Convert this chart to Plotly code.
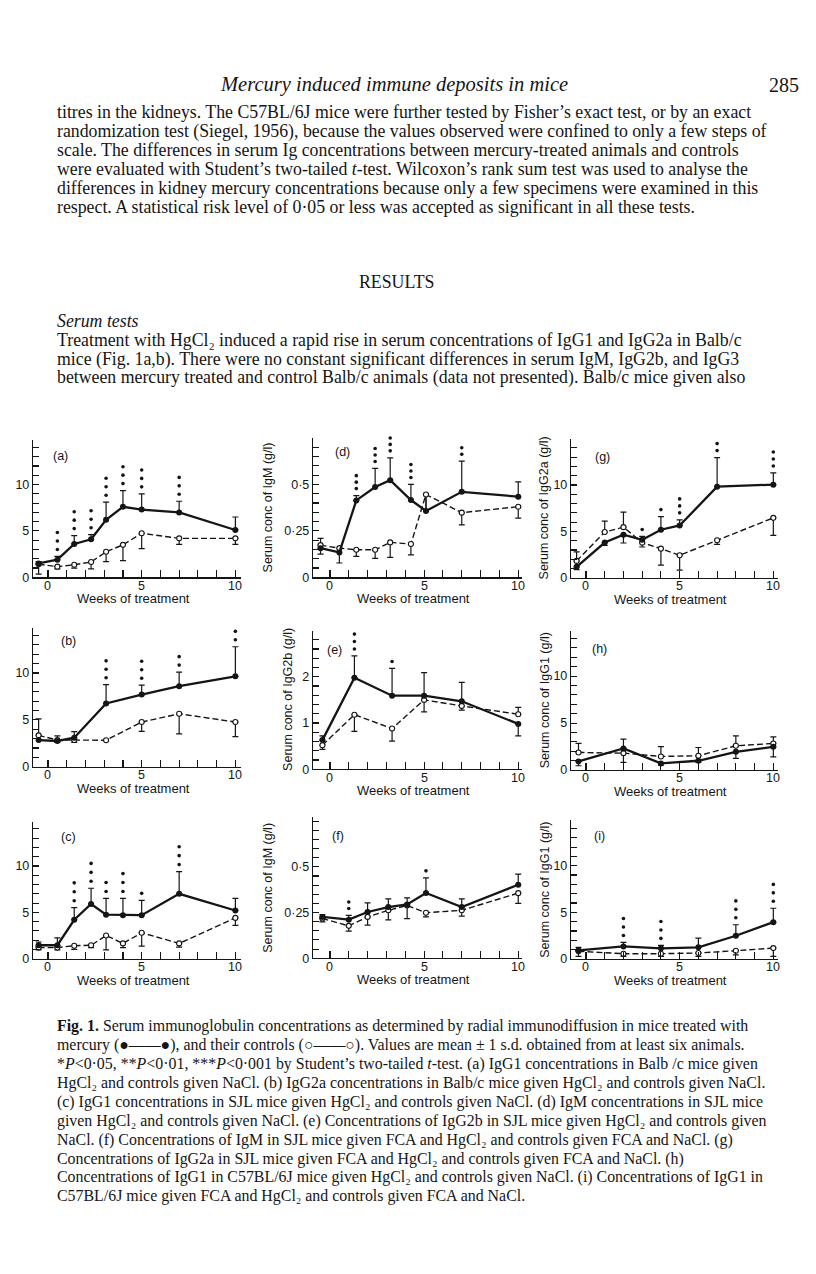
import plotly.graph_objects as go

W, H = 816, 1274


def px(x):
    return x / W


def py(y):
    return 1 - y / H


# ---------------- data ----------------
# (a) IgG1, Balb/c, HgCl2 vs NaCl
weeks_a = [-0.5, 0.5, 1.4, 2.3, 3.1, 4, 5, 7, 10]
hg_a = [1.5, 1.9, 3.6, 4.1, 6.2, 7.6, 7.3, 7.0, 5.1]
hg_a_up = [0.2, 0.35, 0.9, 0.5, 1.9, 1.75, 1.7, 1.2, 1.4]
hg_a_dn = [0, 0, 0, 0, 0, 0, 0, 0, 0]
ctl_a = [1.4, 1.15, 1.35, 1.65, 2.75, 3.5, 4.75, 4.2, 4.2]
ctl_a_up = [0, 0, 0, 0, 0, 0, 0, 0, 0]
ctl_a_dn = [1.05, 0.25, 0.35, 0.75, 1.05, 1.7, 1.65, 0.65, 0.65]
stars_a = [0, 3, 3, 3, 3, 3, 3, 3, 0]

# (b) IgG2a, Balb/c
weeks_b = [-0.5, 0.5, 1.4, 3.1, 5, 7, 10]
hg_b = [2.85, 2.75, 3.1, 6.75, 7.7, 8.6, 9.65]
hg_b_up = [0, 0.55, 0.65, 2.0, 1.0, 1.5, 3.15]
hg_b_dn = [0, 0, 0, 0, 0, 0, 0]
ctl_b = [3.35, 2.85, 2.85, 2.83, 4.77, 5.65, 4.77]
ctl_b_up = [1.75, 0, 0, 0, 0, 0, 0]
ctl_b_dn = [0, 0.25, 0.25, 0, 1.0, 2.15, 1.55]
stars_b = [0, 0, 0, 3, 3, 2, 3]

# (c) IgG1, SJL
weeks_c = [-0.5, 0.5, 1.4, 2.3, 3.1, 4, 5, 7, 10]
hg_c = [1.45, 1.45, 4.2, 5.9, 4.75, 4.7, 4.7, 7.0, 5.2]
hg_c_up = [0.35, 0.8, 1.3, 1.7, 1.75, 1.8, 1.6, 2.4, 1.3]
hg_c_dn = [0, 0, 0, 0, 0, 0, 0, 0, 0]
ctl_c = [1.2, 1.2, 1.4, 1.45, 2.5, 1.65, 2.8, 1.65, 4.4]
ctl_c_up = [0, 0, 0, 0, 0, 0, 0, 0, 0]
ctl_c_dn = [0.25, 0.25, 0.4, 0.25, 1.55, 0.45, 1.45, 0.4, 0.8]
stars_c = [0, 0, 3, 3, 2, 3, 1, 3, 0]

# (d) IgM, SJL
weeks_d = [-0.5, 0.5, 1.4, 2.4, 3.2, 4.3, 5.1, 7, 10]
hg_d = [0.157, 0.134, 0.414, 0.486, 0.523, 0.416, 0.357, 0.46, 0.434]
hg_d_up = [0.053, 0, 0.026, 0.1, 0.12, 0.084, 0.093, 0.165, 0.08]
hg_d_dn = [0, 0, 0, 0, 0, 0, 0, 0, 0]
ctl_d = [0.173, 0.157, 0.148, 0.148, 0.188, 0.179, 0.446, 0.348, 0.38]
ctl_d_up = [0, 0, 0, 0, 0, 0, 0, 0, 0]
ctl_d_dn = [0.048, 0.08, 0.035, 0.046, 0.081, 0.058, 0.089, 0.066, 0.062]
stars_d = [0, 0, 3, 3, 3, 3, 0, 2, 0]

# (e) IgG2b, SJL
weeks_e = [-0.4, 1.3, 3.3, 5, 7, 10]
hg_e = [0.63, 1.98, 1.59, 1.59, 1.47, 0.98]
hg_e_up = [0.09, 0.47, 0.59, 0.5, 0.41, 0]
hg_e_dn = [0, 0, 0, 0, 0, 0.26]
ctl_e = [0.52, 1.18, 0.88, 1.5, 1.37, 1.19]
ctl_e_up = [0, 0, 0, 0, 0, 0.15]
ctl_e_dn = [0.09, 0.36, 0.27, 0.26, 0.09, 0]
stars_e = [0, 3, 1, 0, 0, 0]

# (f) IgM, SJL + FCA
weeks_f = [-0.4, 1, 2, 3.1, 4.1, 5.1, 7, 10]
hg_f = [0.226, 0.211, 0.253, 0.28, 0.294, 0.357, 0.28, 0.402]
hg_f_up = [0.012, 0.023, 0.05, 0.045, 0.036, 0.083, 0.045, 0.058]
hg_f_dn = [0, 0, 0, 0, 0, 0, 0, 0]
ctl_f = [0.217, 0.177, 0.226, 0.262, 0.289, 0.249, 0.262, 0.356]
ctl_f_up = [0, 0, 0, 0, 0, 0, 0, 0]
ctl_f_dn = [0.018, 0.029, 0.045, 0.052, 0.072, 0.023, 0.032, 0.056]
stars_f = [0, 2, 0, 0, 0, 1, 0, 0]

# (g) IgG2a, SJL + FCA
weeks_g = [-0.5, 1, 2, 3, 4, 5, 7, 10]
hg_g = [1.18, 3.8, 4.64, 4.1, 5.18, 5.64, 9.82, 10.04]
hg_g_up = [0, 0, 0, 0.36, 1.42, 0.61, 3.14, 1.26]
hg_g_dn = [0.29, 0.3, 0.89, 0, 0, 0, 0, 0]
ctl_g = [1.82, 4.93, 5.46, 3.79, 3.14, 2.43, 4.04, 6.46]
ctl_g_up = [0.97, 1.17, 1.61, 0, 0, 0, 0, 0]
ctl_g_dn = [0, 0, 0, 0.47, 1.78, 1.61, 0.44, 1.89]
stars_g = [0, 0, 0, 1, 1, 3, 3, 3]

# (h) IgG1, C57BL/6J
weeks_h = [-0.4, 2, 4, 6, 8, 10]
hg_h = [0.92, 2.3, 0.71, 0.99, 1.94, 2.47]
hg_h_up = [0, 0.99, 0, 0, 0, 0]
hg_h_dn = [0.46, 0, 0.18, 0.18, 0.7, 1.06]
ctl_h = [1.87, 1.8, 1.45, 1.52, 2.58, 2.83]
ctl_h_up = [0.96, 0, 1.05, 0.88, 1.06, 0.7]
ctl_h_dn = [0, 0.99, 0, 0, 0, 0]
stars_h = [0, 0, 0, 0, 0, 0]

# (i) IgG1, C57BL/6J + FCA
weeks_i = [-0.4, 2, 4, 6, 8, 10]
hg_i = [0.93, 1.35, 1.14, 1.25, 2.49, 3.95]
hg_i_up = [0.32, 0.43, 0.32, 0.99, 1.18, 1.49]
hg_i_dn = [0, 0, 0, 0, 0, 0]
ctl_i = [0.82, 0.57, 0.57, 0.64, 0.89, 1.17]
ctl_i_up = [0, 0, 0, 0, 0, 0]
ctl_i_dn = [0.54, 0.29, 0.29, 0.36, 0.45, 0.89]
stars_i = [0, 3, 3, 0, 3, 3]

# tick labels
x_tickvals = [0, 5, 10]
x_ticktext = ["0", "5", "10"]
y_ticks_big = ([0, 5, 10], ["0", "5", "10"])
y_ticks_igm = ([0, 0.25, 0.5], ["0", "0·25", "0·5"])
y_ticks_g2b = ([0, 1, 2], ["0", "1", "2"])

# ---------------- panel boxes (pixels) ----------------
panels = [
    dict(lab="(a)", w=weeks_a, hg=hg_a, hu=hg_a_up, hd=hg_a_dn, c=ctl_a, cu=ctl_a_up, cd=ctl_a_dn, s=stars_a,
         xb=(33, 241), xr=[-0.8, 10.3], yb=(442, 580.5), yr=[0, 14.85], yt=y_ticks_big, ym=1,
         title=None, tx=None, lp=(0.13, 0.88), sp=8.5),
    dict(lab="(b)", w=weeks_b, hg=hg_b, hu=hg_b_up, hd=hg_b_dn, c=ctl_b, cu=ctl_b_up, cd=ctl_b_dn, s=stars_b,
         xb=(33, 241), xr=[-0.8, 10.3], yb=(631, 771), yr=[0, 14.85], yt=y_ticks_big, ym=1,
         title=None, tx=None, lp=(0.17, 0.9), sp=8.5),
    dict(lab="(c)", w=weeks_c, hg=hg_c, hu=hg_c_up, hd=hg_c_dn, c=ctl_c, cu=ctl_c_up, cd=ctl_c_dn, s=stars_c,
         xb=(33, 241), xr=[-0.8, 10.3], yb=(826.5, 964), yr=[0, 14.75], yt=y_ticks_big, ym=1,
         title=None, tx=None, lp=(0.17, 0.89), sp=9),
    dict(lab="(d)", w=weeks_d, hg=hg_d, hu=hg_d_up, hd=hg_d_dn, c=ctl_d, cu=ctl_d_up, cd=ctl_d_dn, s=stars_d,
         xb=(313, 522), xr=[-0.9, 10.2], yb=(440, 580.5), yr=[0, 0.752], yt=y_ticks_igm, ym=0.05,
         title="Serum conc of IgM (g/l)", tx=268, lp=(0.14, 0.9), sp=6.5),
    dict(lab="(e)", w=weeks_e, hg=hg_e, hu=hg_e_up, hd=hg_e_dn, c=ctl_e, cu=ctl_e_up, cd=ctl_e_dn, s=stars_e,
         xb=(313, 522), xr=[-0.9, 10.2], yb=(634, 773.5), yr=[0, 3.0], yt=y_ticks_g2b, ym=0.2,
         title="Serum conc of IgG2b (g/l)", tx=288, lp=(0.105, 0.86), sp=7.5),
    dict(lab="(f)", w=weeks_f, hg=hg_f, hu=hg_f_up, hd=hg_f_dn, c=ctl_f, cu=ctl_f_up, cd=ctl_f_dn, s=stars_f,
         xb=(313, 522), xr=[-0.9, 10.2], yb=(822, 963.5), yr=[0, 0.77], yt=y_ticks_igm, ym=0.05,
         title="Serum conc of IgM (g/l)", tx=268, lp=(0.12, 0.87), sp=6.5),
    dict(lab="(g)", w=weeks_g, hg=hg_g, hu=hg_g_up, hd=hg_g_dn, c=ctl_g, cu=ctl_g_up, cd=ctl_g_dn, s=stars_g,
         xb=(571, 778), xr=[-0.8, 10.25], yb=(441.5, 581), yr=[0, 14.95], yt=y_ticks_big, ym=1,
         title="Serum conc of IgG2a (g/l)", tx=544, lp=(0.15, 0.87), sp=7),
    dict(lab="(h)", w=weeks_h, hg=hg_h, hu=hg_h_up, hd=hg_h_dn, c=ctl_h, cu=ctl_h_up, cd=ctl_h_dn, s=stars_h,
         xb=(571, 778), xr=[-0.8, 10.25], yb=(634, 774.3), yr=[0, 14.85], yt=y_ticks_big, ym=1,
         title="Serum conc of IgG1 (g/l)", tx=545, lp=(0.14, 0.87), sp=8),
    dict(lab="(i)", w=weeks_i, hg=hg_i, hu=hg_i_up, hd=hg_i_dn, c=ctl_i, cu=ctl_i_up, cd=ctl_i_dn, s=stars_i,
         xb=(571, 778), xr=[-0.8, 10.25], yb=(825, 964.3), yr=[0, 14.85], yt=y_ticks_big, ym=1,
         title="Serum conc of IgG1 (g/l)", tx=545, lp=(0.14, 0.89), sp=8.5),
]

INK = "#151515"
SANS = "Liberation Sans, Arial, sans-serif"
SERIF = "Liberation Serif, Times New Roman, serif"

fig = go.Figure()
annotations = []
layout_axes = {}


def err_trace(x, y, up, dn, xa, ya):
    """Invisible points carrying only the error bars that are actually drawn."""
    xs, ys, us, ds = [], [], [], []
    for xi, yi, ui, di in zip(x, y, up, dn):
        if ui > 0 or di > 0:
            xs.append(xi)
            ys.append(yi)
            us.append(ui)
            ds.append(di)
    return go.Scatter(
        x=xs, y=ys, mode="markers", marker=dict(size=1, opacity=0),
        error_y=dict(type="data", symmetric=False, array=us, arrayminus=ds,
                     width=3, thickness=1.2, color=INK),
        xaxis=xa, yaxis=ya, hoverinfo="skip",
    )


for k, p in enumerate(panels):
    n = k + 1
    xa = "x" if n == 1 else f"x{n}"
    ya = "y" if n == 1 else f"y{n}"
    xkey = "xaxis" if n == 1 else f"xaxis{n}"
    ykey = "yaxis" if n == 1 else f"yaxis{n}"

    x0, x1 = p["xb"]
    ytop, ybot = p["yb"]

    layout_axes[xkey] = dict(
        domain=[px(x0), px(x1)], range=p["xr"], anchor=ya,
        showline=True, linecolor=INK, linewidth=1.2, showgrid=False, zeroline=False,
        ticks="inside", ticklen=7, tickwidth=1.1, tickcolor=INK,
        tickmode="array", tickvals=x_tickvals, showticklabels=False,
        minor=dict(ticks="inside", ticklen=7, tickwidth=1.1, tickcolor=INK, dtick=1, tick0=0, showgrid=False),
    )
    tv, tt = p["yt"]
    layout_axes[ykey] = dict(
        domain=[py(ybot), py(ytop)], range=p["yr"], anchor=xa,
        showline=True, linecolor=INK, linewidth=1.2, showgrid=False, zeroline=False,
        ticks="inside", ticklen=6, tickwidth=1.1, tickcolor=INK,
        tickmode="array", tickvals=tv, ticktext=tt,
        minor=dict(ticks="inside", ticklen=6, tickwidth=1.1, tickcolor=INK, dtick=p["ym"], tick0=0, showgrid=False),
        tickfont=dict(family=SANS, size=12.5, color=INK),
    )

    # x tick labels, set close under the axis line as in the print
    for v, t in zip(x_tickvals, x_ticktext):
        annotations.append(dict(
            x=v, y=py(ybot + 8.5), xref=xa, yref="paper", text=t, showarrow=False,
            font=dict(family=SANS, size=12.5, color=INK), xanchor="center", yanchor="middle",
        ))

    # error bars first (under the markers)
    fig.add_trace(err_trace(p["w"], p["c"], p["cu"], p["cd"], xa, ya))
    fig.add_trace(err_trace(p["w"], p["hg"], p["hu"], p["hd"], xa, ya))

    # controls: open circles, dashed line
    fig.add_trace(go.Scatter(
        x=p["w"], y=p["c"], mode="lines+markers",
        line=dict(color=INK, width=1.4, dash="6px,3px"),
        marker=dict(symbol="circle", size=5, color="white", line=dict(color=INK, width=1.1)),
        xaxis=xa, yaxis=ya,
    ))
    # mercury treated: filled circles, solid line
    fig.add_trace(go.Scatter(
        x=p["w"], y=p["hg"], mode="lines+markers",
        line=dict(color=INK, width=2.3),
        marker=dict(symbol="circle", size=6, color=INK),
        xaxis=xa, yaxis=ya,
    ))

    # significance dots stacked above the top of the bars (pixel gap converted by the axis scale)
    units_per_px = (p["yr"][1] - p["yr"][0]) / (ybot - ytop)
    sx, sy = [], []
    for xi, yi, ui, ci, cui, ns in zip(p["w"], p["hg"], p["hu"], p["c"], p["cu"], p["s"]):
        top = max(yi + ui, ci + cui)
        for j in range(ns):
            sx.append(xi)
            sy.append(top + (7 + j * p["sp"]) * units_per_px)
    if sx:
        fig.add_trace(go.Scatter(
            x=sx, y=sy, mode="markers", marker=dict(size=3.6, color=INK),
            xaxis=xa, yaxis=ya, cliponaxis=False,
        ))

    # panel label
    annotations.append(dict(
        x=p["lp"][0], y=p["lp"][1], xref=f"{xa} domain", yref=f"{ya} domain",
        text=p["lab"], showarrow=False, font=dict(family=SANS, size=12.5, color=INK),
        xanchor="center", yanchor="middle",
    ))
    # x title
    annotations.append(dict(
        x=px((x0 + x1) / 2 - 4), y=py(ybot + 21.5), xref="paper", yref="paper",
        text="Weeks of treatment", showarrow=False,
        font=dict(family=SANS, size=13, color=INK), xanchor="center", yanchor="middle",
    ))
    # y title
    if p["title"]:
        annotations.append(dict(
            x=px(p["tx"]), y=py((ytop + ybot) / 2), xref="paper", yref="paper",
            text=p["title"], textangle=-90, showarrow=False,
            font=dict(family=SANS, size=12.5, color=INK), xanchor="center", yanchor="middle",
        ))

# ---------------- page text ----------------
LEFT = 55


def text_line(txt, y, x=LEFT, size=17.8, anchor="left", family=SERIF):
    annotations.append(dict(
        x=px(x), y=py(y), xref="paper", yref="paper", text=txt, showarrow=False,
        xanchor=anchor, yanchor="middle", font=dict(family=family, size=size, color=INK),
    ))


text_line("<i>Mercury induced immune deposits in mice</i>", 85, x=394, size=20.5, anchor="center")
text_line("285", 85, x=801, size=20, anchor="right")

para1 = [
    "titres in the kidneys. The C57BL/6J mice were further tested by Fisher’s exact test, or by an exact",
    "randomization test (Siegel, 1956), because the values observed were confined to only a few steps of",
    "scale. The differences in serum Ig concentrations between mercury-treated animals and controls",
    "were evaluated with Student’s two-tailed <i>t</i>-test. Wilcoxon’s rank sum test was used to analyse the",
    "differences in kidney mercury concentrations because only a few specimens were examined in this",
    "respect. A statistical risk level of 0·05 or less was accepted as significant in all these tests.",
]
for i, t in enumerate(para1):
    text_line(t, 113 + 19 * i)

text_line("RESULTS", 284, x=396, size=17.8, anchor="center")
text_line("<i>Serum tests</i>", 323)

para2 = [
    "Treatment with HgCl₂ induced a rapid rise in serum concentrations of IgG1 and IgG2a in Balb/c",
    "mice (Fig. 1a,b). There were no constant significant differences in serum IgM, IgG2b, and IgG3",
    "between mercury treated and control Balb/c animals (data not presented). Balb/c mice given also",
]
for i, t in enumerate(para2):
    text_line(t, 342 + 19 * i)

caption = [
    "<b>Fig. 1.</b> Serum immunoglobulin concentrations as determined by radial immunodiffusion in mice treated with",
    "mercury (●——●), and their controls (○——○). Values are mean ± 1 s.d. obtained from at least six animals.",
    "*<i>P</i><0·05, **<i>P</i><0·01, ***<i>P</i><0·001 by Student’s two-tailed <i>t</i>-test. (a) IgG1 concentrations in Balb /c mice given",
    "HgCl₂ and controls given NaCl. (b) IgG2a concentrations in Balb/c mice given HgCl₂ and controls given NaCl.",
    "(c) IgG1 concentrations in SJL mice given HgCl₂ and controls given NaCl. (d) IgM concentrations in SJL mice",
    "given HgCl₂ and controls given NaCl. (e) Concentrations of IgG2b in SJL mice given HgCl₂ and controls given",
    "NaCl. (f) Concentrations of IgM in SJL mice given FCA and HgCl₂ and controls given FCA and NaCl. (g)",
    "Concentrations of IgG2a in SJL mice given FCA and HgCl₂ and controls given FCA and NaCl. (h)",
    "Concentrations of IgG1 in C57BL/6J mice given HgCl₂ and controls given NaCl. (i) Concentrations of IgG1 in",
    "C57BL/6J mice given FCA and HgCl₂ and controls given FCA and NaCl.",
]
for i, t in enumerate(caption):
    text_line(t, 1032 + 19 * i, size=15.9)

fig.update_layout(
    width=W, height=H, autosize=False,
    margin=dict(l=0, r=0, t=0, b=0),
    paper_bgcolor="white", plot_bgcolor="white",
    showlegend=False, hovermode=False,
    annotations=annotations,
    **layout_axes,
)

# remove the browser's default 8px body margin so the 816x1274 figure fills the page exactly
fig.write_html(
    "out.html",
    config={"displayModeBar": False, "staticPlot": True},
    post_script="document.body.style.margin='0px';",
)
